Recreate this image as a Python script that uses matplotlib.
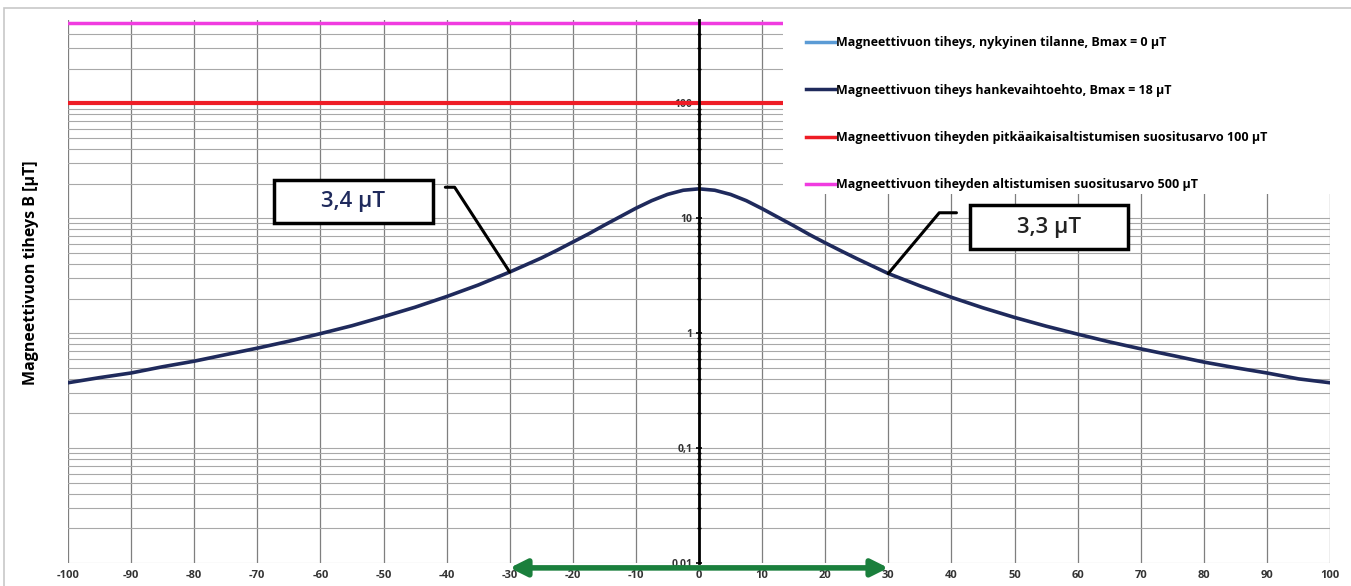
import matplotlib
matplotlib.use("Agg")
import matplotlib.pyplot as plt
from matplotlib.lines import Line2D
from matplotlib.patches import Rectangle
from matplotlib.ticker import FixedLocator, LogLocator, NullFormatter

plt.rcParams["font.family"] = ["Open Sans", "DejaVu Sans"]
plt.rcParams["axes.unicode_minus"] = False

# distance from line centre (m) and flux density (µT)
distance = [-100, -95, -90, -85, -80, -75, -70, -65, -60, -55, -50, -45, -40,
            -35, -30, -25, -22.5, -20, -17.5, -15, -12.5, -10, -7.5, -5, -2.5, 0,
            2.5, 5, 7.5, 10, 12.5, 15, 17.5, 20, 22.5, 25, 30, 35, 40, 45, 50,
            55, 60, 65, 70, 75, 80, 85, 90, 95, 100]
b_project = [0.37, 0.41, 0.45, 0.51, 0.57, 0.65, 0.74, 0.85, 0.99, 1.16, 1.39,
             1.68, 2.08, 2.62, 3.4, 4.5, 5.26, 6.2, 7.3, 8.7, 10.3, 12.2, 14.2,
             16.1, 17.5, 18.0,
             17.5, 16.1, 14.2, 12.1, 10.2, 8.6, 7.2, 6.1, 5.2, 4.45, 3.3, 2.58,
             2.05, 1.66, 1.37, 1.15, 0.98, 0.84, 0.73, 0.64, 0.56, 0.50, 0.45,
             0.40, 0.37]
limit_long = 100   # pitkäaikaisaltistuminen
limit_short = 500  # altistuminen

# labelled points
label_pts = [(-30, 3.4, "3,4 µT"), (30, 3.3, "3,3 µT")]
corridor = (-30, 30)

x_ticks = list(range(-100, 101, 10))
y_ticks = [0.01, 0.1, 1, 10, 100]
y_ticklabels = ["0,01", "0,1", "1", "10", "100"]

legend_labels = [
    "Magneettivuon tiheys, nykyinen tilanne, Bmax = 0 µT",
    "Magneettivuon tiheys hankevaihtoehto, Bmax = 18 µT",
    "Magneettivuon tiheyden pitkäaikaisaltistumisen suositusarvo 100 µT",
    "Magneettivuon tiheyden altistumisen suositusarvo 500 µT",
]
C_NOW = "#5b9bd5"
C_PROJ = "#1f2a5c"
C_RED = "#ee1c25"
C_MAG = "#f03ce0"
C_GREEN = "#1a7f3c"

W, H = 1351, 586
fig = plt.figure(figsize=(W / 100, H / 100), dpi=100)
ax = fig.add_axes([68 / W, 1 - 563 / H, 1262 / W, 543 / H])

ax.set_yscale("log")
ax.set_xlim(-100, 100)
ax.set_ylim(0.01, 530)

ax.axhline(limit_long, color=C_RED, lw=3, zorder=3)
ax.axhline(limit_short, color=C_MAG, lw=2.5, zorder=3)
ax.plot(distance, b_project, color=C_PROJ, lw=2.6, zorder=3,
        solid_joinstyle="round")

# grid
ax.xaxis.set_major_locator(FixedLocator(x_ticks))
ax.set_xticklabels([str(v) for v in x_ticks])
ax.yaxis.set_major_locator(FixedLocator(y_ticks))
ax.set_yticklabels(y_ticklabels)
ax.yaxis.set_minor_locator(LogLocator(base=10, subs=range(2, 10)))
ax.yaxis.set_minor_formatter(NullFormatter())
ax.grid(axis="x", color="#7f7f7f", lw=0.9, zorder=1)
ax.grid(axis="y", which="both", color="#a8a8a8", lw=0.8, zorder=1)
ax.set_axisbelow(True)

for s in ["top", "right", "bottom"]:
    ax.spines[s].set_visible(False)
ax.spines["left"].set_position(("data", 0))
ax.spines["left"].set_linewidth(2)
ax.spines["left"].set_zorder(3.5)
ax.tick_params(axis="y", which="major", direction="inout", length=5, width=1.2,
               labelsize=7.5, pad=2, labelcolor="#333333")
ax.tick_params(axis="y", which="minor", direction="inout", length=3, width=1.0)
ax.tick_params(axis="x", length=0, labelsize=8, pad=5, labelcolor="#333333")
for t in ax.get_xticklabels() + ax.get_yticklabels():
    t.set_fontweight("bold")

# legend area (white, covers grid)
ax.add_patch(Rectangle((783 / W, 1 - 194 / H), (W - 783) / W, 186 / H,
                       transform=fig.transFigure, facecolor="white",
                       edgecolor="none", zorder=4, clip_on=False))
handles = [Line2D([], [], color=c, lw=2.5) for c in [C_NOW, C_PROJ, C_RED, C_MAG]]
leg = ax.legend(handles, legend_labels, loc="upper left",
                bbox_to_anchor=(795 / W, 1 - 25 / H),
                bbox_transform=fig.transFigure, frameon=False,
                handlelength=2.3, handletextpad=0.1, labelspacing=2.75,
                prop={"size": 9, "weight": "bold"})
leg.set_zorder(5)

# value boxes + leaders
boxes = [((206 / 1262, 0.626), 159 / 1262, 43 / 543, (0.299, 0.692), 123, C_PROJ),
         ((902 / 1262, 0.578), 158 / 1262, 44 / 543, (0.704, 0.645), 50, "#222222")]
for (xd, yd, txt), (xy0, bw, bh, elbow, ang, tc) in zip(label_pts, boxes):
    ax.add_patch(Rectangle(xy0, bw, bh, transform=ax.transAxes, facecolor="white",
                           edgecolor="black", lw=2.5, zorder=4, clip_on=False))
    ax.text(xy0[0] + bw / 2, xy0[1] + bh / 2, txt, transform=ax.transAxes,
            ha="center", va="center", fontsize=16, fontweight="semibold",
            color=tc, zorder=5)
    ax.annotate("", xy=(xd, yd), xytext=elbow, textcoords="axes fraction",
                arrowprops=dict(arrowstyle="-", color="black", lw=2.2,
                                shrinkA=0, shrinkB=0,
                                connectionstyle=f"angle,angleA=0,angleB={ang},rad=0"),
                zorder=5)

# corridor arrow
ax.annotate("", xy=(corridor[1], -0.009), xytext=(corridor[0], -0.009),
            xycoords=("data", "axes fraction"), textcoords=("data", "axes fraction"),
            arrowprops=dict(arrowstyle="<|-|>,head_length=1.0,head_width=0.5",
                            color=C_GREEN, lw=4, shrinkA=0, shrinkB=0),
            annotation_clip=False, zorder=6)

fig.text(31 / W, 1 - 273 / H, "Magneettivuon tiheys B [µT]", rotation=90,
         ha="center", va="center", fontsize=11.5, fontweight="bold")

# outer border
fig.add_artist(Rectangle((4 / W, -0.01), 1.0, 1 - 8 / H + 0.01,
                         transform=fig.transFigure, facecolor="none",
                         edgecolor="#c8c8c8", lw=1.2))

fig.savefig("out.png", dpi=100)
